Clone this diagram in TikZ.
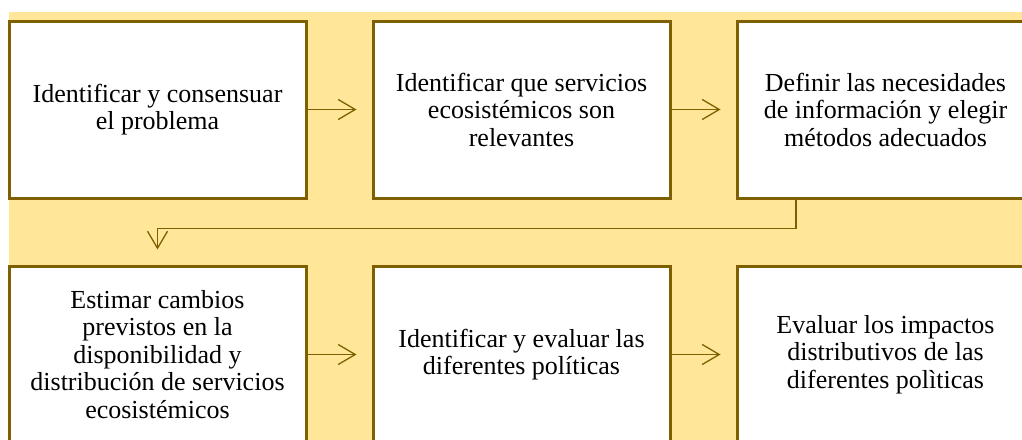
\documentclass[tikz,border=0pt]{standalone}
\usepackage{fontspec}
\setmainfont{Liberation Serif}
\usetikzlibrary{arrows.meta, positioning}
\definecolor{bandcolor}{HTML}{FFE699}
\definecolor{edgecolor}{HTML}{7F6000}

\begin{document}
\begin{tikzpicture}[
    x=1pt, y=-1pt,
    task/.style={draw=edgecolor, line width=3pt, fill=white, minimum width=297pt, minimum height=177pt, inner sep=0pt, align=center, font=\fontsize{26}{27.5}\selectfont},
    arrow/.style={-{Straight Barb[length=17pt, width=20pt]}, draw=edgecolor, line width=1.3pt}
]
    \clip (0,0) rectangle (1022,439);
    % Background
    \fill[bandcolor] (9,12) rectangle (1040,450);

    % First row
    \node[task] (problem) at (157.5,109.5) {Identificar y consensuar\\el problema};
    \node[task] (services) at (521.5,109.5) {Identificar que servicios\\ecosistémicos son\\relevantes};
    \node[task] (needs) at (885.5,109.5) {Definir las necesidades\\de información y elegir\\métodos adecuados};

    % Second row
    \node[task] (changes) at (157.5,354.5) {Estimar cambios\\previstos en la\\disponibilidad y\\distribución de servicios\\ecosistémicos};
    \node[task] (policies) at (521.5,354.5) {Identificar y evaluar las\\diferentes políticas};
    \node[task] (impacts) at (885.5,354.5) {Evaluar los impactos\\distributivos de las\\diferentes polìticas};

    % Connections
    \draw[arrow, shorten >=15pt] (problem) -- (services);
    \draw[arrow, shorten >=15pt] (services) -- (needs);
    \draw[arrow, shorten >=15pt] ([xshift=-89.5pt]needs.south) -- ++(0,29) -| (changes.north);
    \draw[arrow, shorten >=15pt] (changes) -- (policies);
    \draw[arrow, shorten >=15pt] (policies) -- (impacts);
\end{tikzpicture}
\end{document}
